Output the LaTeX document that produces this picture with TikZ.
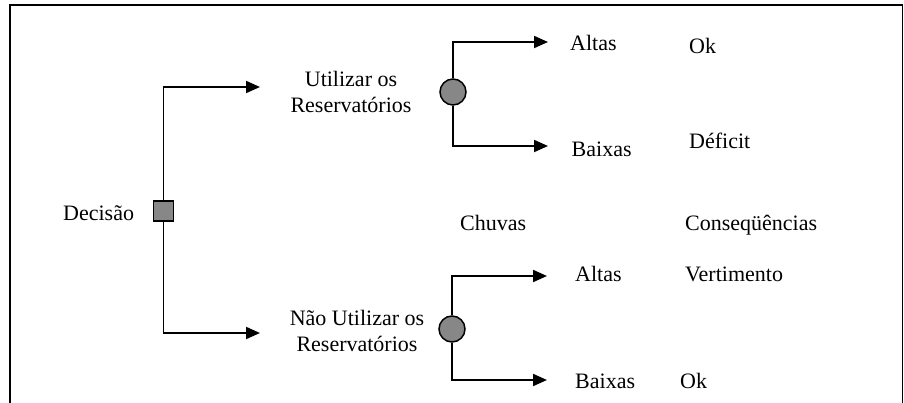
\documentclass[tikz,border=0pt]{standalone}
\usepackage{fontspec}
\setmainfont{Liberation Serif}
\usetikzlibrary{arrows.meta}
\begin{document}
\begin{tikzpicture}[x=1pt,y=-1pt,
  txt/.style={anchor=base west,inner sep=0pt,font=\fontsize{22}{26}\selectfont},
  ctxt/.style={anchor=base,inner sep=0pt,align=center,font=\fontsize{22}{26}\selectfont},
  link/.style={line width=1.9pt,-{Triangle[length=14pt,width=12pt]}},
  decbox/.style={draw,line width=1.8pt,fill=gray!95!black!90,minimum size=20pt,inner sep=0pt},
  chance/.style={circle,draw,line width=1.5pt,fill=gray!95!black!90,minimum size=26pt,inner sep=0pt}]
\useasboundingbox (0,0) rectangle (904,403);
\draw[line width=1.9pt] (10,403) -- (10,5) -- (902.5,5) -- (902.5,403);
% nodes
\node[decbox] (dec) at (163.5,211) {};
\node[chance] (c1) at (453,92) {};
\node[chance] (c2) at (452,329) {};
% tip coordinates
\coordinate (t1) at (260,87);
\coordinate (t2) at (260,333);
\coordinate (a1) at (548,42);
\coordinate (b1) at (548,146);
\coordinate (a2) at (547,276);
\coordinate (b2) at (547,380);
% connectors
\draw[link] (dec.north) |- (t1);
\draw[link] (dec.south) |- (t2);
\draw[link] (c1.north) |- (a1);
\draw[link] (c1.south) |- (b1);
\draw[link] (c2.north) |- (a2);
\draw[link] (c2.south) |- (b2);
% texts
\node[txt] (ldec) at (63,221) {Decisão};
\node[ctxt] (lu) at (351,112.7) {Utilizar os\\Reservatórios};
\node[ctxt] (ln) at (357,351.7) {Não Utilizar os\\Reservatórios};
\node[txt] (alt1) at (570,50.7) {Altas};
\node[txt] (ok1) at (689,53.3) {Ok};
\node[txt] (bx1) at (571.5,156.7) {Baixas};
\node[txt] (def) at (689,148.3) {Déficit};
\node[txt] (chv) at (460,231) {Chuvas};
\node[txt] (cons) at (685,231) {Conseqüências};
\node[txt] (alt2) at (575,281) {Altas};
\node[txt] (vert) at (685,281) {Vertimento};
\node[txt] (bx2) at (575,388) {Baixas};
\node[txt] (ok2) at (680,388) {Ok};
\end{tikzpicture}
\end{document}
